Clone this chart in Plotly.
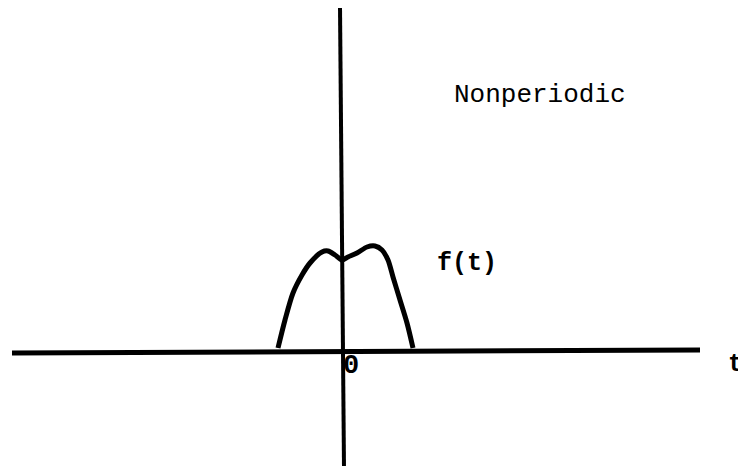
import plotly.graph_objects as go

# curve samples (t, f in arbitrary units; origin at axis crossing)
curve_t = [-6.5, -5.8, -5.0, -4.1, -3.3, -2.1, -1.5, -0.8, -0.1, 0.5, 1.4, 2.4, 3.2, 3.9, 4.5, 5.0, 5.7, 6.4, 7.0]
curve_f = [0.2, 3.0, 5.7, 7.5, 8.7, 9.8, 9.9, 9.5, 9.0, 9.3, 9.7, 10.3, 10.4, 10.0, 9.0, 7.3, 5.0, 2.7, 0.2]

# hand-drawn axes (slightly skewed, as in the sketch)
haxis_t = [-33.1, 35.7]
haxis_f = [-0.3, 0.0]
vaxis_t = [-0.3, 0.1]
vaxis_f = [34.3, -11.8]

fig = go.Figure()

fig.add_trace(go.Scatter(x=haxis_t, y=haxis_f, mode='lines',
                         line=dict(color='black', width=5), hoverinfo='skip'))
fig.add_trace(go.Scatter(x=vaxis_t, y=vaxis_f, mode='lines',
                         line=dict(color='black', width=4), hoverinfo='skip'))
fig.add_trace(go.Scatter(x=curve_t, y=curve_f, mode='lines',
                         line=dict(color='black', width=5, shape='spline', smoothing=0.8),
                         hoverinfo='skip'))

mono = 'Liberation Mono, Courier New, monospace'
fig.add_annotation(x=19.7, y=25.5, text='Nonperiodic', showarrow=False,
                   font=dict(family=mono, size=26, color='black'))
fig.add_annotation(x=12.4, y=8.7, text='<b>f(t)</b>', showarrow=False,
                   font=dict(family=mono, size=25, color='black'))
fig.add_annotation(x=39.2, y=-1.4, text='<b>t</b>', showarrow=False,
                   font=dict(family=mono, size=25, color='black'))
fig.add_annotation(x=0.8, y=-1.6, text='<b>0</b>', showarrow=False,
                   font=dict(family=mono, size=27, color='black'))

fig.update_layout(
    width=746, height=466,
    margin=dict(l=0, r=0, t=0, b=0),
    paper_bgcolor='white', plot_bgcolor='white',
    showlegend=False,
    xaxis=dict(range=[-33.5, 41.1], visible=False, fixedrange=True),
    yaxis=dict(range=[-12.4, 34.2], visible=False, fixedrange=True),
)

fig.write_html("out.html")
